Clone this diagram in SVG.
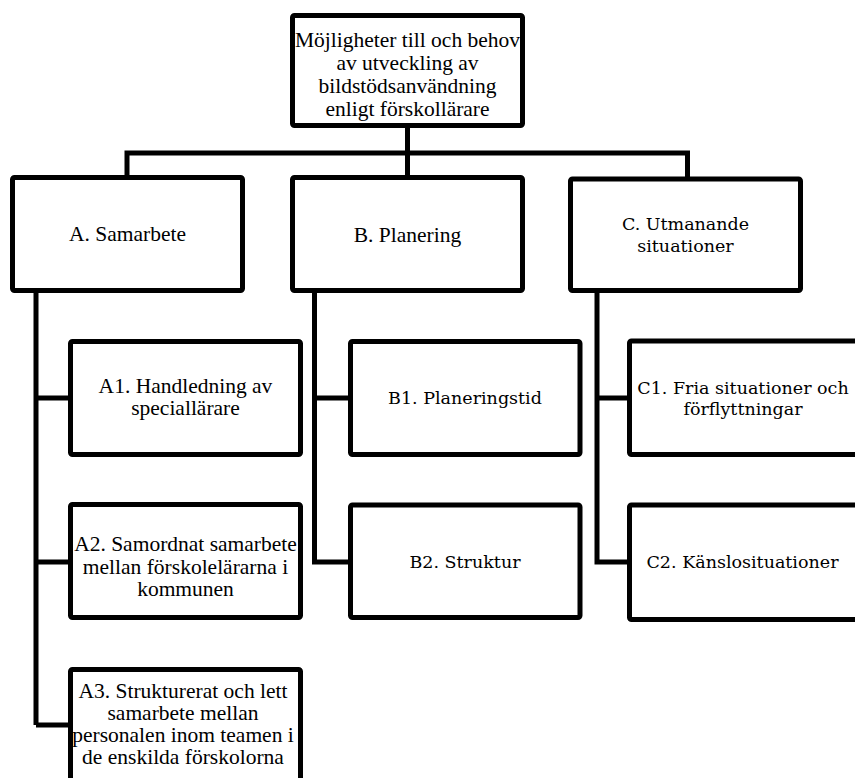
<svg xmlns="http://www.w3.org/2000/svg" width="855" height="778" viewBox="0 0 855 778">
<style>
  .box { fill: #ffffff; stroke: #000000; stroke-width: 5; stroke-linejoin: round; }
  .conn { fill: none; stroke: #000000; stroke-width: 5; stroke-linejoin: miter; }
  .t { font-family: "Liberation Serif", "Times New Roman", serif; font-size: 21.5px; fill: #000000; text-anchor: middle; }
  .c { font-family: "DejaVu Serif", "Liberation Serif", serif; font-size: 17.5px; fill: #000000; text-anchor: middle; }
</style>
<rect width="855" height="778" fill="#ffffff"/>
<g id="connectors">
  <path class="conn" d="M407.5,128 V153 M127,153 H687.5 M127,150.5 V177 M407.5,153 V177 M687.5,150.5 V177"/>
  <path class="conn" d="M36,293 V725 M33.5,398 H70 M33.5,562 H70 M36,725 H70"/>
  <path class="conn" d="M314.5,293 V562 M312,398 H350 M312,562 H350"/>
  <path class="conn" d="M597,293 V562 M594.5,398 H629 M594.5,562 H629"/>
</g>
<g id="root">
  <rect class="box" x="292.5" y="15.5" width="230" height="110" rx="2"/>
  <text class="t" x="407.5" y="47">Möjligheter till och behov</text>
  <text class="t" x="407.5" y="70">av utveckling av</text>
  <text class="t" x="407.5" y="93">bildstödsanvändning</text>
  <text class="t" x="407.5" y="116">enligt förskollärare</text>
</g>
<g id="A">
  <rect class="box" x="12.5" y="177.5" width="230" height="113" rx="2"/>
  <text class="t" x="127.5" y="241">A. Samarbete</text>
</g>
<g id="B">
  <rect class="box" x="292.5" y="177.5" width="230" height="113" rx="2"/>
  <text class="t" x="407.5" y="242">B. Planering</text>
</g>
<g id="C">
  <rect class="box" x="570.5" y="179" width="230" height="111.5" rx="2"/>
  <text class="c" x="685.5" y="230">C. Utmanande</text>
  <text class="c" x="685.5" y="252">situationer</text>
</g>
<g id="A1">
  <rect class="box" x="70.5" y="341.5" width="230" height="113" rx="2"/>
  <text class="t" x="185.5" y="393">A1. Handledning av</text>
  <text class="t" x="185.5" y="415">speciallärare</text>
</g>
<g id="A2">
  <rect class="box" x="70.5" y="504.5" width="230" height="113" rx="2"/>
  <text class="t" x="185.5" y="551">A2. Samordnat samarbete</text>
  <text class="t" x="185.5" y="573.5">mellan förskolelärarna i</text>
  <text class="t" x="185.5" y="596">kommunen</text>
</g>
<g id="A3">
  <rect class="box" x="70.5" y="669.5" width="230" height="113" rx="2"/>
  <text class="t" x="183" y="698">A3. Strukturerat och lett</text>
  <text class="t" x="183" y="720">samarbete mellan</text>
  <text class="t" x="183" y="742">personalen inom teamen i</text>
  <text class="t" x="183" y="764">de enskilda förskolorna</text>
</g>
<g id="B1">
  <rect class="box" x="350.5" y="341.5" width="229.5" height="113" rx="2"/>
  <text class="c" x="465" y="404">B1. Planeringstid</text>
</g>
<g id="B2">
  <rect class="box" x="350.5" y="505" width="229.5" height="112.5" rx="2"/>
  <text class="c" x="465" y="568">B2. Struktur</text>
</g>
<g id="C1">
  <rect class="box" x="629.5" y="341" width="230" height="113.5" rx="2"/>
  <text class="c" x="743" y="394">C1. Fria situationer och</text>
  <text class="c" x="743" y="415">förflyttningar</text>
</g>
<g id="C2">
  <rect class="box" x="629.5" y="505" width="230" height="114.5" rx="2"/>
  <text class="c" x="742.5" y="568">C2. Känslosituationer</text>
</g>
</svg>
